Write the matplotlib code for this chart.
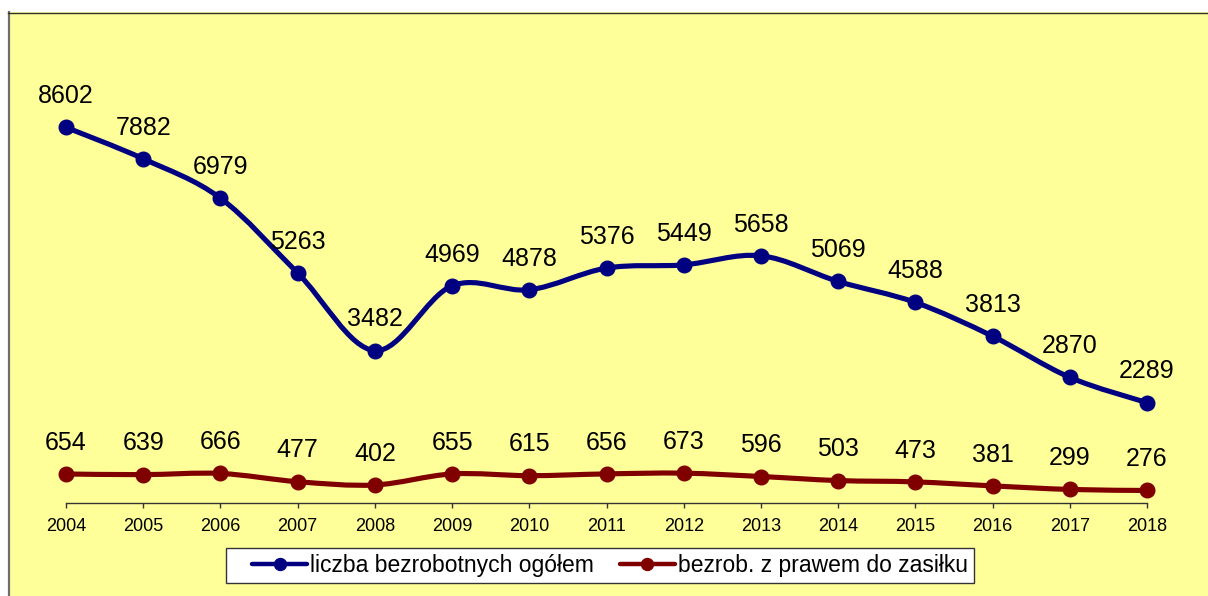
import numpy as np
import matplotlib
matplotlib.use("Agg")
import matplotlib.pyplot as plt
from matplotlib.path import Path
from matplotlib.patches import PathPatch, Rectangle
from matplotlib.lines import Line2D
from matplotlib.legend_handler import HandlerLine2D

# data
years = [2004, 2005, 2006, 2007, 2008, 2009, 2010, 2011, 2012, 2013, 2014, 2015, 2016, 2017, 2018]
total = [8602, 7882, 6979, 5263, 3482, 4969, 4878, 5376, 5449, 5658, 5069, 4588, 3813, 2870, 2289]
benefit = [654, 639, 666, 477, 402, 655, 615, 656, 673, 596, 503, 473, 381, 299, 276]
labels = ["liczba bezrobotnych ogółem", "bezrob. z prawem do zasiłku"]
colors = ["#000080", "#800000"]

plt.rcParams['font.family'] = ['Liberation Sans', 'DejaVu Sans']

W, H = 1208, 596
fig = plt.figure(figsize=(W / 100, H / 100), dpi=100)
fig.patch.set_facecolor("white")

# yellow chart area, frame only on top and left
bg = Rectangle((9 / W, -0.05), 1.1, 1.05 - 12 / H, transform=fig.transFigure,
               facecolor="#FFFF99", edgecolor="none", zorder=-5)
fig.patches.append(bg)
fig.lines.append(Line2D([8.5 / W, 8.5 / W], [0, 1 - 12 / H], transform=fig.transFigure,
                        color="#6e6e6e", linewidth=1.6, zorder=-4))
fig.lines.append(Line2D([8 / W, 1], [1 - 12.5 / H, 1 - 12.5 / H], transform=fig.transFigure,
                        color="#303030", linewidth=1.0, zorder=-4))

ax_l, ax_r = 20, 1190
ax_t, ax_b = 66.4, 502.5
ax = fig.add_axes([ax_l / W, 1 - ax_b / H, (ax_r - ax_l) / W, (ax_b - ax_t) / H])
ax.set_facecolor("none")

x0, x1 = 66, 1147
step = (x1 - x0) / 14
ax.set_xlim(2004 - (x0 - ax_l) / step, 2018 + (ax_r - x1) / step)
ax.set_ylim(0, 10000)


def smooth_path(xs, ys):
    # Excel-like smoothed line (Catmull-Rom as cubic Bezier)
    pts = np.column_stack([xs, ys]).astype(float)
    verts = [pts[0]]
    codes = [Path.MOVETO]
    n = len(pts)
    for i in range(n - 1):
        p0 = pts[i - 1] if i > 0 else pts[i]
        p1, p2 = pts[i], pts[i + 1]
        p3 = pts[i + 2] if i + 2 < n else pts[i + 1]
        c1 = p1 + (p2 - p0) / 6
        c2 = p2 - (p3 - p1) / 6
        verts += [c1, c2, p2]
        codes += [Path.CURVE4] * 3
    return Path(verts, codes)


handles = []
for vals, col, lab in zip([total, benefit], colors, labels):
    ax.add_patch(PathPatch(smooth_path(years, vals), facecolor="none",
                           edgecolor=col, linewidth=3.7, capstyle="round", zorder=2))
    ax.plot(years, vals, linestyle="none", marker="o", markersize=10.5,
            color=col, zorder=3)
    handles.append(Line2D([], [], color=col, linewidth=3.2, marker="o",
                          markersize=8.6, solid_capstyle="round", label=lab))
    for x, v in zip(years, vals):
        ax.annotate(str(v), (x, v), xytext=(0, 22.5), textcoords="offset points",
                    ha="center", va="center", fontsize=18, color="black", zorder=4)

for s in ["top", "right", "left"]:
    ax.spines[s].set_visible(False)
ax.spines["bottom"].set_bounds(2004, 2018)
ax.spines["bottom"].set_color("#333333")
ax.spines["bottom"].set_linewidth(1.0)
ax.set_yticks([])
ax.set_xticks(years)
ax.set_xticklabels([str(y) for y in years], fontsize=13)
ax.tick_params(axis="x", direction="out", length=3.4, width=1, color="#333333", pad=7.5)

leg = fig.legend(handles=handles, loc="center", bbox_to_anchor=(600 / W, 1 - 565.5 / H),
                 ncol=2, fontsize=16.5, frameon=True, fancybox=False,
                 handlelength=3.27, handletextpad=0.13, columnspacing=0.26,
                 borderpad=0.26, edgecolor="#333333", facecolor="white", framealpha=1,
                 handler_map={Line2D: HandlerLine2D(xpad=0.87)})
leg.get_frame().set_linewidth(1.0)

fig.savefig("out.png", dpi=100)
